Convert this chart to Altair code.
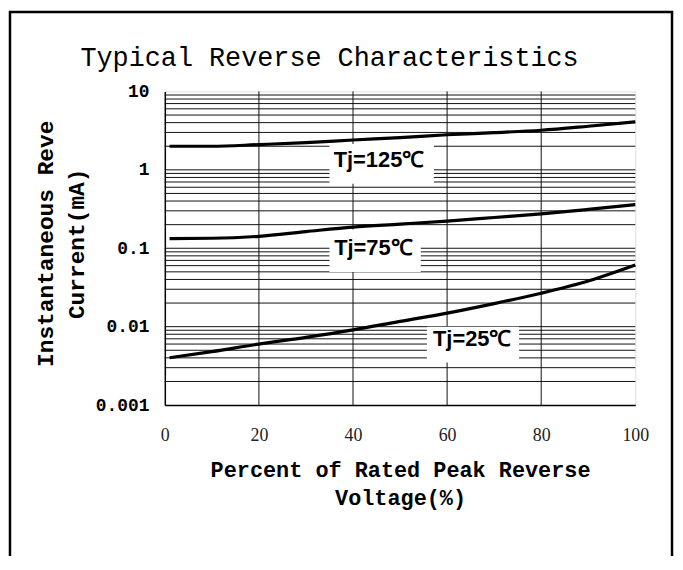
import altair as alt
import pandas as pd

# ---- data ----
pct = [1, 10, 20, 30, 40, 50, 60, 70, 80, 90, 100]
i_125 = [2.0, 2.0, 2.1, 2.22, 2.4, 2.58, 2.8, 2.98, 3.2, 3.6, 4.1]
i_75 = [0.133, 0.134, 0.142, 0.163, 0.186, 0.203, 0.222, 0.247, 0.275, 0.313, 0.36]
i_25 = [0.00402, 0.0048, 0.006, 0.0073, 0.0091, 0.0117, 0.0149, 0.0197, 0.0267, 0.0382, 0.061]

x_ticks = [0, 20, 40, 60, 80, 100]
x_grid = [20, 40, 60, 80]
y_ticks = [0.001, 0.01, 0.1, 1, 10]
y_grid = [k * d for d in [0.001, 0.01, 0.1, 1] for k in range(1, 10)][1:]

labels = ["Tj=125℃", "Tj=75℃", "Tj=25℃"]
label_x = [35.9, 36.0, 57.0]
label_y = [1.09, 0.0832, 0.00574]
box_x = [35.0, 35.0, 55.7]
box_x2 = [57.2, 54.4, 75.3]
box_y = [2.13, 0.174, 0.01]
box_y2 = [0.663, 0.0497, 0.0035]

W, H = 474, 316
xs = alt.Scale(domain=[0, 100], nice=False, zero=False)
ys = alt.Scale(type="log", domain=[0.001, 10], nice=False)

curves = pd.DataFrame({
    "pct": pct * 3,
    "cur": i_125 + i_75 + i_25,
    "series": ["125"] * len(pct) + ["75"] * len(pct) + ["25"] * len(pct),
})
lab = pd.DataFrame({"label": labels, "x": label_x, "y": label_y,
                    "bx": box_x, "bx2": box_x2, "by": box_y, "by2": box_y2})

hgrid = alt.Chart(pd.DataFrame({"v": y_grid})).mark_rule(color="#111", strokeWidth=1).encode(
    y=alt.Y("v:Q", scale=ys,
            axis=alt.Axis(values=y_ticks, format="~g", title=["Instantaneous Reve", "Current(mA)"],
                          grid=False, ticks=False, domain=True, domainColor="black", domainWidth=1.5,
                          labelFont="Liberation Mono", labelFontWeight="bold", labelFontSize=18,
                          labelColor="black", labelPadding=16,
                          titleFont="Liberation Mono", titleFontWeight="bold", titleFontSize=23,
                          titleColor="black", titleLineHeight=31, titleX=-113, titleY=153,
                          titleBaseline="alphabetic", titleAngle=-90, titleAlign="center"))
)

vgrid = alt.Chart(pd.DataFrame({"v": x_grid})).mark_rule(color="#111", strokeWidth=1).encode(
    x=alt.X("v:Q", scale=xs,
            axis=alt.Axis(values=x_ticks, title=["Percent of Rated Peak Reverse", "Voltage(%)"],
                          grid=False, ticks=False, domain=True, domainColor="black", domainWidth=1.5,
                          labelFont="Liberation Serif", labelFontSize=18, labelColor="#222",
                          labelPadding=22, labelFlush=False,
                          titleFont="Liberation Mono", titleFontWeight="bold", titleFontSize=22,
                          titleColor="black", titleLineHeight=28, titleY=72,
                          titleBaseline="alphabetic", titleX=W / 2))
)

boxes = alt.Chart(lab).mark_rect(fill="white").encode(
    x=alt.X("bx:Q", scale=xs), x2="bx2:Q",
    y=alt.Y("by:Q", scale=ys), y2="by2:Q",
)

lines = alt.Chart(curves).mark_line(color="black", strokeWidth=3.2, interpolate="monotone").encode(
    x=alt.X("pct:Q", scale=xs),
    y=alt.Y("cur:Q", scale=ys),
    detail="series:N",
)

texts = alt.Chart(lab).mark_text(font="Liberation Sans", fontWeight="bold", fontSize=22,
                                 align="left", baseline="alphabetic", color="black").encode(
    x=alt.X("x:Q", scale=xs),
    y=alt.Y("y:Q", scale=ys),
    text="label:N",
)

frame = alt.Chart(pd.DataFrame({"a": [0]})).mark_rect(
    fill=None, stroke="black", strokeWidth=2.5
).encode(
    x=alt.value(-156), x2=alt.value(511), y=alt.value(-80), y2=alt.value(540)
)

chart = alt.layer(hgrid, vgrid, boxes, lines, texts, frame).properties(
    width=W, height=H,
    title=alt.TitleParams("Typical Reverse Characteristics", font="Liberation Mono",
                          fontSize=27, fontWeight="normal", color="black",
                          anchor="middle", dx=-71, dy=97, offset=14, baseline="alphabetic"),
    autosize=alt.AutoSizeParams(type="none"),
    padding={"left": 158, "top": 82, "right": 40, "bottom": 150},
).configure_view(stroke="#999", strokeWidth=1.5).configure(background="white")

chart.save("out.html", embed_options={"renderer": "svg", "actions": False})
